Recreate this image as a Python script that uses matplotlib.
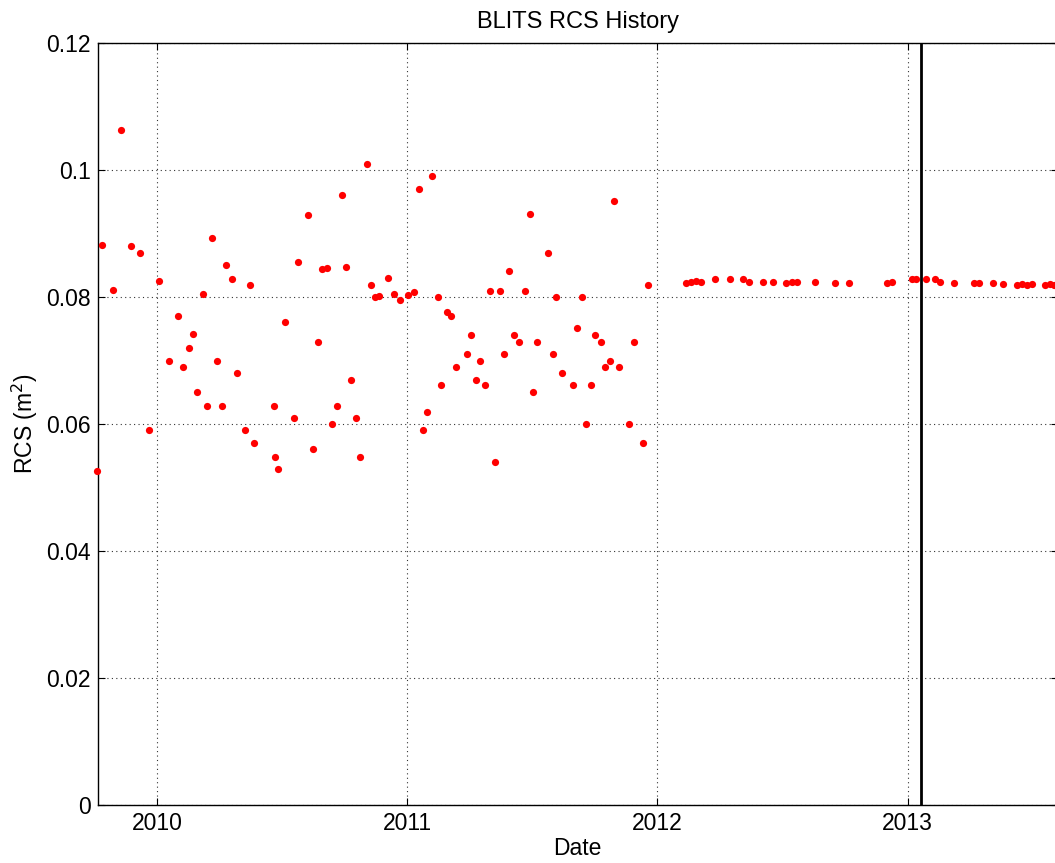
import matplotlib
matplotlib.use("Agg")
import matplotlib.pyplot as plt

plt.rcParams['font.family'] = ['Liberation Sans', 'DejaVu Sans']

# Decimal-year dates and RCS values (m^2)
dates = [
    2009.762, 2009.780, 2009.825, 2009.857, 2009.896, 2009.933, 2009.970,
    2010.009, 2010.049, 2010.086, 2010.103, 2010.129, 2010.146, 2010.162,
    2010.183, 2010.199, 2010.220, 2010.241, 2010.259, 2010.278, 2010.299,
    2010.319, 2010.352, 2010.374, 2010.390, 2010.468, 2010.474, 2010.486,
    2010.511, 2010.548, 2010.565, 2010.603, 2010.623, 2010.644, 2010.660,
    2010.681, 2010.701, 2010.719, 2010.739, 2010.757, 2010.776, 2010.797,
    2010.813, 2010.839, 2010.855, 2010.873, 2010.889, 2010.925, 2010.948,
    2010.973, 2011.005, 2011.028, 2011.046, 2011.064, 2011.080, 2011.101,
    2011.122, 2011.136, 2011.158, 2011.175, 2011.197, 2011.238, 2011.254,
    2011.275, 2011.291, 2011.313, 2011.332, 2011.350, 2011.370, 2011.388,
    2011.407, 2011.428, 2011.446, 2011.471, 2011.492, 2011.503, 2011.520,
    2011.563, 2011.583, 2011.595, 2011.620, 2011.661, 2011.679, 2011.699,
    2011.716, 2011.736, 2011.749, 2011.773, 2011.791, 2011.811, 2011.828,
    2011.848, 2011.885, 2011.908, 2011.944, 2011.964,
    2012.115, 2012.135, 2012.154, 2012.173, 2012.231, 2012.289, 2012.343,
    2012.365, 2012.423, 2012.460, 2012.514, 2012.538, 2012.556, 2012.631,
    2012.711, 2012.767, 2012.916, 2012.937, 2013.017, 2013.033, 2013.073,
    2013.110, 2013.129, 2013.186, 2013.265, 2013.284, 2013.341, 2013.380,
    2013.435, 2013.457, 2013.476, 2013.495, 2013.547, 2013.568, 2013.586,
]
rcs = [
    0.0526, 0.0883, 0.0811, 0.1064, 0.0880, 0.0870, 0.0590,
    0.0825, 0.0700, 0.0771, 0.0690, 0.0720, 0.0742, 0.0650,
    0.0805, 0.0629, 0.0893, 0.0700, 0.0629, 0.0851, 0.0829,
    0.0680, 0.0590, 0.0820, 0.0571, 0.0629, 0.0549, 0.0529,
    0.0761, 0.0610, 0.0856, 0.0930, 0.0561, 0.0730, 0.0844,
    0.0846, 0.0600, 0.0629, 0.0961, 0.0847, 0.0670, 0.0610,
    0.0549, 0.1010, 0.0820, 0.0800, 0.0802, 0.0830, 0.0805,
    0.0796, 0.0803, 0.0808, 0.0971, 0.0590, 0.0619, 0.0991,
    0.0800, 0.0661, 0.0776, 0.0771, 0.0690, 0.0710, 0.0741,
    0.0670, 0.0700, 0.0661, 0.0810, 0.0540, 0.0810, 0.0710,
    0.0841, 0.0741, 0.0729, 0.0810, 0.0931, 0.0651, 0.0729,
    0.0870, 0.0710, 0.0800, 0.0680, 0.0661, 0.0751, 0.0800,
    0.0600, 0.0661, 0.0741, 0.0729, 0.0690, 0.0700, 0.0951,
    0.0690, 0.0600, 0.0729, 0.0571, 0.0820,
    0.0823, 0.0824, 0.0826, 0.0824, 0.0828, 0.0828, 0.0828,
    0.0824, 0.0824, 0.0824, 0.0823, 0.0824, 0.0824, 0.0824,
    0.0823, 0.0823, 0.0823, 0.0824, 0.0828, 0.0829, 0.0829,
    0.0829, 0.0824, 0.0823, 0.0823, 0.0823, 0.0823, 0.0821,
    0.0819, 0.0821, 0.0819, 0.0821, 0.0819, 0.0821, 0.0819,
]
marker_date = 2013.055

x_ticks = [2010, 2011, 2012, 2013]
x_labels = ['2010', '2011', '2012', '2013']
y_ticks = [0, 0.02, 0.04, 0.06, 0.08, 0.1, 0.12]
y_labels = ['0', '0.02', '0.04', '0.06', '0.08', '0.1', '0.12']

W, H = 1055, 863
fig = plt.figure(figsize=(W / 100, H / 100), dpi=100)
left, right, top, bottom = 97.5, 1058, 43.3, 805
ax = fig.add_axes([left / W, 1 - bottom / H, (right - left) / W, (bottom - top) / H])

ax.plot(dates, rcs, linestyle='none', marker='o', markersize=5.2,
        color='#ff0000', markeredgewidth=0, zorder=3, clip_on=False)
ax.axvline(marker_date, color='black', linewidth=2, zorder=4)

ax.set_xlim(2009.763, 2009.763 + (right - left) / 250.3)
ax.set_ylim(0, 0.12)
ax.set_xticks(x_ticks)
ax.set_xticklabels(x_labels)
ax.set_yticks(y_ticks)
ax.set_yticklabels(y_labels)
ax.tick_params(direction='in', length=5, width=0.8, labelsize=16.5,
               top=True, right=True, colors='black', pad=5)
ax.grid(True, linestyle=(0, (1, 3)), color='black', linewidth=0.8, alpha=0.8)
for s in ax.spines.values():
    s.set_linewidth(1.0)

ax.set_title('BLITS RCS History', fontsize=17, pad=11)
ax.set_xlabel('Date', fontsize=16.5, labelpad=1.5)
ax.set_ylabel('RCS (m$^2$)', fontsize=16.5, labelpad=4)

fig.savefig('out.png', dpi=100)
